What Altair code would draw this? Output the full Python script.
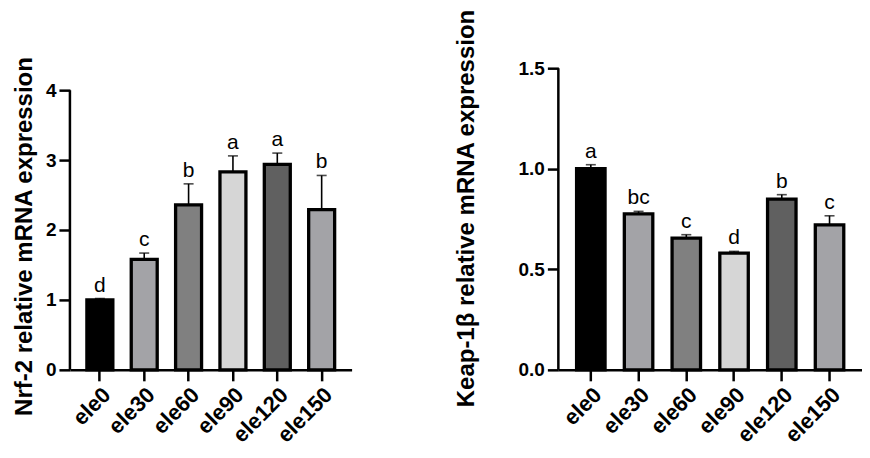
import altair as alt
import pandas as pd

groups = ["ele0", "ele30", "ele60", "ele90", "ele120", "ele150"]
colors = ["#000000", "#a3a3a7", "#808080", "#d6d6d6", "#606060", "#a3a3a7"]

nrf2_mean = [1.00, 1.58, 2.36, 2.83, 2.94, 2.29]
nrf2_err = [0.02, 0.09, 0.30, 0.23, 0.16, 0.49]
nrf2_letters = ["d", "c", "b", "a", "a", "b"]

keap_mean = [1.00, 0.776, 0.655, 0.58, 0.849, 0.721]
keap_err = [0.02, 0.012, 0.017, 0.009, 0.022, 0.045]
keap_letters = ["a", "bc", "c", "d", "b", "c"]

FONT = "Liberation Sans"


def panel(mean, err, letters, title, domain_max, ticks, fmt, width, height,
          pad_inner, pad_outer, bar_size, title_y, title_pad, axis_top):
    df = pd.DataFrame({
        "group": groups,
        "mean": mean,
        "upper": [m + e for m, e in zip(mean, err)],
        "letter": letters,
    })
    xaxis = alt.Axis(labelAngle=-45, labelFont=FONT, labelFontSize=22,
                     labelFontWeight="bold", labelColor="black",
                     labelAlign="right", labelBaseline="top",
                     tickSize=11, tickWidth=2.5, tickColor="black",
                     domainColor="black", domainWidth=2.5, labelPadding=3)
    xscale = alt.Scale(paddingInner=pad_inner, paddingOuter=pad_outer)
    xenc = alt.X("group:N", sort=groups, title=None, scale=xscale, axis=xaxis)
    yscale = alt.Scale(domain=[0, domain_max], nice=False, zero=True)
    yaxis = alt.Axis(values=ticks, format=fmt, title=title, titleFont=FONT,
                     titleFontSize=24, titleFontWeight="bold", titleColor="black",
                     labelFont=FONT, labelFontSize=19, labelFontWeight="bold",
                     labelColor="black", tickSize=11, tickWidth=2.5,
                     tickColor="black", domain=False, grid=False,
                     labelPadding=3, titlePadding=title_pad, titleY=title_y)
    yenc = alt.Y("mean:Q", scale=yscale, axis=yaxis)
    base = alt.Chart(df)
    bars = base.mark_bar(stroke="black", strokeWidth=3.3, size=bar_size).encode(
        x=xenc,
        y=yenc,
        color=alt.Color("group:N", scale=alt.Scale(domain=groups, range=colors),
                        legend=None),
    )
    rule = base.mark_rule(color="black", strokeWidth=1.6).encode(
        x=xenc, y=alt.Y("mean:Q", scale=yscale, axis=yaxis), y2="upper:Q")
    cap = base.mark_tick(color="black", thickness=1.6, size=10).encode(
        x=xenc, y=alt.Y("upper:Q", scale=yscale, axis=yaxis))
    text = base.mark_text(font=FONT, fontSize=21, baseline="alphabetic",
                          dy=-7, color="black").encode(
        x=xenc, y=alt.Y("upper:Q", scale=yscale, axis=yaxis), text="letter:N")
    dom = alt.Chart(pd.DataFrame({"y0": [0], "y1": [axis_top]})).mark_rule(
        color="black", strokeWidth=2.5).encode(
        x=alt.value(0), y=alt.Y("y0:Q", scale=yscale, axis=yaxis), y2="y1:Q")
    return alt.layer(bars, rule, cap, text, dom).properties(width=width, height=height)


left = panel(nrf2_mean, nrf2_err, nrf2_letters, "Nrf-2 relative mRNA expression",
             4 * 302 / 280, [0, 1, 2, 3, 4], "d", 282, 302,
             0.4, 0.375, 26, 168, 9, 4)
right = panel(keap_mean, keap_err, keap_letters, "Keap-1β relative mRNA expression",
              1.5, [0, 0.5, 1.0, 1.5], ".1f", 304, 302,
              0.4, 0.38, 28.5, 140, 40, 1.5)

chart = alt.hconcat(left, right, spacing=102).properties(
    padding={"left": 4, "top": 0, "right": 0, "bottom": 0}
).configure_view(stroke=None).configure_axis(grid=False)

chart.save("out.html", embed_options={"renderer": "svg", "actions": False})
